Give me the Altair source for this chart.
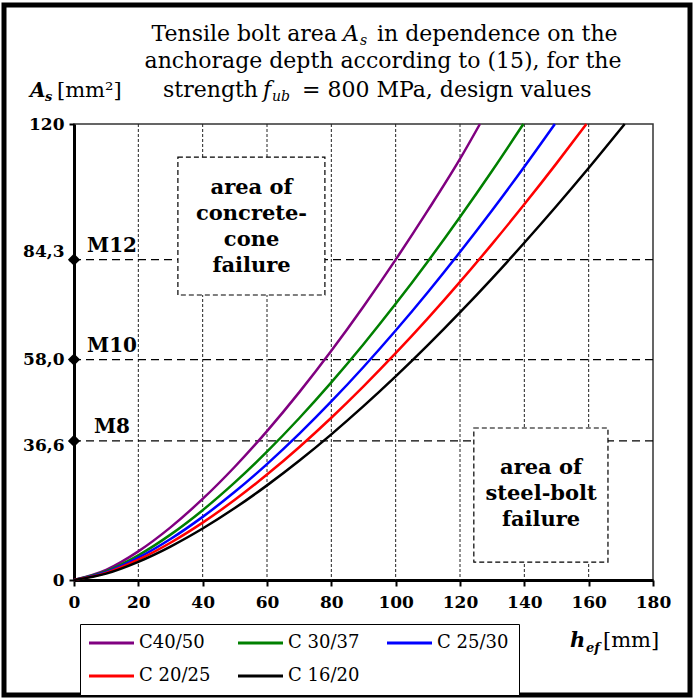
import altair as alt
import pandas as pd

FONT = "'DejaVu Serif', 'Liberation Serif', serif"

# ---- data ----
series = ["C40/50", "C 30/37", "C 25/30", "C 20/25", "C 16/20"]
colors = ["#800080", "#008000", "#0000ff", "#ff0000", "#000000"]
# legend fills column by column: this order puts the entries in the reference's rows
legend_order = ["C40/50", "C 20/25", "C 30/37", "C 16/20", "C 25/30"]

hef_c4050 = [0, 10, 20, 30, 40, 50, 60, 70, 80, 90, 100, 110, 120, 126.2]
as_c4050 = [0, 2.67, 7.54, 13.85, 21.33, 29.80, 39.18, 49.37, 60.32, 71.98, 84.3, 97.26, 110.81, 120]

hef_c3037 = [0, 10, 20, 30, 40, 50, 60, 70, 80, 90, 100, 110, 120, 130, 139.7]
as_c3037 = [0, 2.30, 6.50, 11.94, 18.38, 25.69, 33.77, 42.56, 52.00, 62.05, 72.67, 83.84, 95.53, 107.71, 120]

hef_c2530 = [0, 10, 20, 30, 40, 50, 60, 70, 80, 90, 100, 110, 120, 130, 140, 149.5]
as_c2530 = [0, 2.08, 5.87, 10.79, 16.61, 23.21, 30.51, 38.45, 46.98, 56.05, 65.65, 75.74, 86.30, 97.31, 108.75, 120]

hef_c2025 = [0, 10, 20, 30, 40, 50, 60, 70, 80, 90, 100, 110, 120, 130, 140, 150, 159.3]
as_c2025 = [0, 1.89, 5.34, 9.81, 15.10, 21.10, 27.74, 34.95, 42.70, 50.96, 59.68, 68.85, 78.45, 88.46, 98.86, 109.64, 120]

hef_c1620 = [0, 10, 20, 30, 40, 50, 60, 70, 80, 90, 100, 110, 120, 130, 140, 150, 160, 171.2]
as_c1620 = [0, 1.69, 4.79, 8.80, 13.55, 18.94, 24.90, 31.37, 38.33, 45.74, 53.57, 61.80, 70.42, 79.40, 88.74, 98.41, 108.42, 120]

bolt_names = ["M8", "M10", "M12"]
bolt_areas = [36.6, 58.0, 84.3]

x_ticks = [0, 20, 40, 60, 80, 100, 120, 140, 160, 180]
grid_x = [20, 40, 60, 80, 100, 120, 140, 160]
y_ticks = [0, 36.6, 58.0, 84.3, 120]

box_texts = ["area of\nconcrete-\ncone\nfailure", "area of\nsteel-bolt\nfailure"]
box_x1 = [32.3, 124.3]
box_x2 = [78.0, 166.0]
box_y1 = [111.3, 40.0]
box_y2 = [75.0, 4.7]
box_tx = [55.2, 145.2]
box_ty = [103.2, 29.5]

# ---- tables ----
rows = []
for name, xs_, ys_ in zip(series,
                          [hef_c4050, hef_c3037, hef_c2530, hef_c2025, hef_c1620],
                          [as_c4050, as_c3037, as_c2530, as_c2025, as_c1620]):
    for xv, yv in zip(xs_, ys_):
        rows.append({"series": name, "hef": xv, "As": yv})
curves = pd.DataFrame(rows)
bolts = pd.DataFrame({"name": bolt_names, "area": bolt_areas})
grid = pd.DataFrame({"g": grid_x})
boxes = pd.DataFrame({"x1": box_x1, "x2": box_x2, "y1": box_y1, "y2": box_y2,
                      "tx": box_tx, "ty": box_ty, "t": box_texts})

W, H = 579, 456
xsc = alt.Scale(domain=[0, 180], nice=False)
ysc = alt.Scale(domain=[0, 120], nice=False)

x_axis = alt.Axis(values=x_ticks, format="d", title=None, grid=False,
                  labelFont=FONT, labelFontWeight="bold", labelFontSize=17,
                  labelColor="black", domainColor="black", domainWidth=3,
                  tickColor="black", tickWidth=2, tickSize=6, labelPadding=8,
                  labelFlush=False)
y_axis = alt.Axis(values=y_ticks, title=None, grid=False,
                  labelExpr="datum.value == 0 ? '0' : datum.value == 120 ? '120' : replace(format(datum.value, '.1f'), '.', ',')",
                  labelFont=FONT, labelFontWeight="bold", labelFontSize=17,
                  labelColor="black", domainColor="black", domainWidth=3,
                  tickColor="black", tickWidth=2, tickSize=5, labelPadding=5,
                  labelFlush=False,
                  labelOffset={"condition": [{"test": "datum.value == 84.3", "value": -8},
                                             {"test": "datum.value == 36.6", "value": 5}],
                               "value": 0})

one = alt.Data(values=[{"a": 1}])


def txt(px, py, s, size, weight="normal", style="normal", align="left"):
    return alt.Chart(one).mark_text(
        text=s, font=FONT, fontSize=size, fontWeight=weight, fontStyle=style,
        align=align, baseline="alphabetic", color="black"
    ).encode(x=alt.value(px), y=alt.value(py))


frame = alt.Chart(one).mark_rect(fillOpacity=0, stroke="black", strokeWidth=5).encode(
    x=alt.value(-70), x2=alt.value(616), y=alt.value(-119), y2=alt.value(571))

vgrid = alt.Chart(grid).mark_rule(color="#222", strokeWidth=1, strokeDash=[3, 2]).encode(
    x=alt.X("g:Q", scale=xsc, axis=x_axis))

hlines = alt.Chart(bolts).mark_rule(color="black", strokeWidth=1.2, strokeDash=[8, 5]).encode(
    y=alt.Y("area:Q", scale=ysc, axis=y_axis))

rects = alt.Chart(boxes).mark_rect(fill="white", stroke="black", strokeWidth=1.2,
                                   strokeDash=[5, 3]).encode(
    x=alt.X("x1:Q", scale=xsc, axis=x_axis), x2="x2:Q",
    y=alt.Y("y1:Q", scale=ysc, axis=y_axis), y2="y2:Q")

rect_text = alt.Chart(boxes).mark_text(font=FONT, fontSize=21, fontWeight="bold",
                                       lineBreak="\n", lineHeight=26, align="center",
                                       baseline="middle", color="black").encode(
    x=alt.X("tx:Q", scale=xsc, axis=x_axis), y=alt.Y("ty:Q", scale=ysc, axis=y_axis), text="t:N")

lines = alt.Chart(curves).mark_line(strokeWidth=2.5, interpolate="monotone").encode(
    x=alt.X("hef:Q", scale=xsc, axis=x_axis),
    y=alt.Y("As:Q", scale=ysc, axis=y_axis),
    color=alt.Color("series:N",
                    scale=alt.Scale(domain=legend_order,
                                    range=[colors[series.index(s)] for s in legend_order]),
                    legend=alt.Legend(title=None, orient="none", legendX=6, legendY=500,
                                      columns=3, symbolType="M-2,0H7", symbolSize=100,
                                      symbolStrokeWidth=3, labelOffset=31,
                                      labelFont=FONT, labelFontSize=18, labelColor="black",
                                      strokeColor="black", fillColor="white", padding=10,
                                      rowPadding=15, columnPadding=21, gridAlign="all")),
    detail="series:N")

diamonds = alt.Chart(bolts).mark_point(shape="diamond", filled=True, size=150, color="black",
                                       opacity=1).encode(
    x=alt.value(0), y=alt.Y("area:Q", scale=ysc, axis=y_axis))

mlabels = alt.Chart(bolts).mark_text(font=FONT, fontSize=20, fontWeight="bold", align="center",
                                     baseline="alphabetic", dx=38, dy=-8, color="black").encode(
    x=alt.value(0), y=alt.Y("area:Q", scale=ysc, axis=y_axis), text="name:N")

texts = [
    txt(263, -83, "Tensile bolt area", 22, align="right"),
    txt(269, -83, "A", 22, style="italic"),
    txt(286, -79, "s", 14, style="italic"),
    txt(303, -83, "in dependence on the", 22),
    txt(309, -56, "anchorage depth according to (15), for the", 22, align="center"),
    txt(184, -27, "strength", 22, align="right"),
    txt(189, -27, "f", 22, style="italic"),
    txt(198, -23, "ub", 14, style="italic"),
    txt(228, -27, "= 800 MPa, design values", 22),
    txt(-44, -27, "A", 20, weight="bold", style="italic"),
    txt(-29, -23, "s", 13, weight="bold", style="italic"),
    txt(-17, -27, "[mm\u00b2]", 21),
    txt(496, 523, "h", 21, weight="bold", style="italic"),
    txt(512, 528, "ef", 13, weight="bold", style="italic"),
    txt(529, 523, "[mm]", 21),
]

chart = alt.layer(frame, vgrid, hlines, rects, rect_text, lines, diamonds, mlabels, *texts).properties(
    width=W, height=H,
    autosize=alt.AutoSizeParams(type="none"),
    padding={"left": 74, "top": 124, "right": 41, "bottom": 118},
    background="white",
).configure_view(stroke="#333", strokeWidth=1.5)

chart.save("out.html", embed_options={"renderer": "svg", "actions": False})
